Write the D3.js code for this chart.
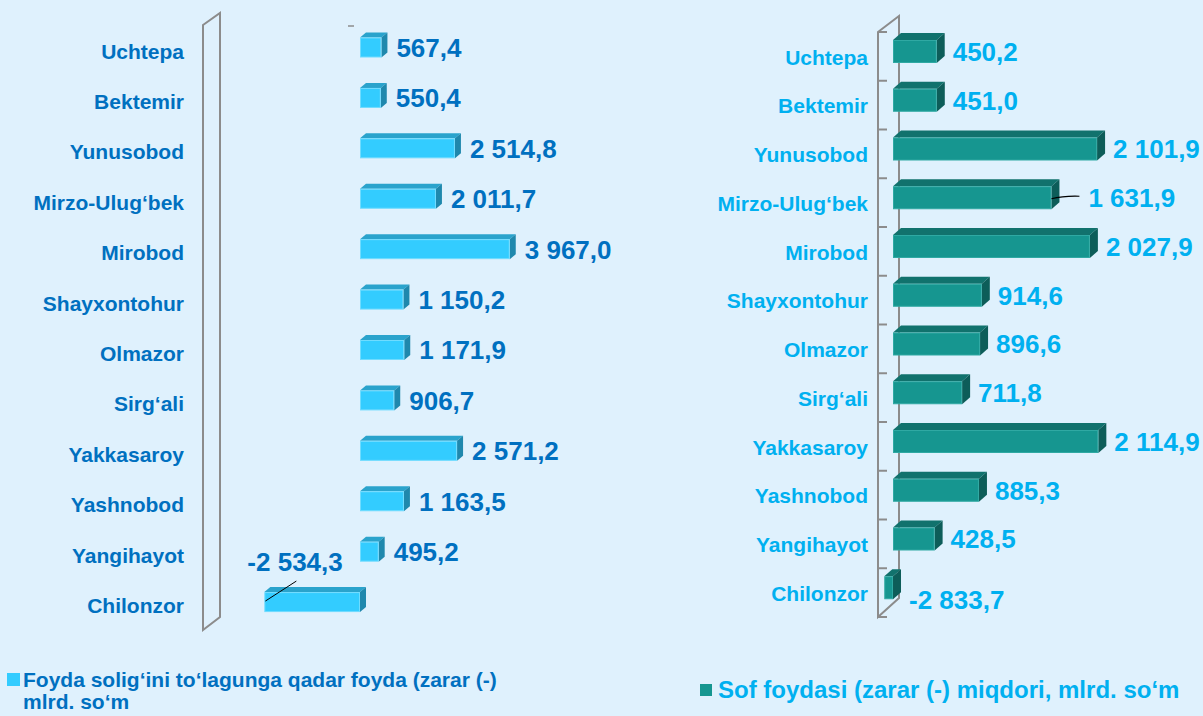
<!DOCTYPE html>
<meta charset="utf-8">
<style>
    body { margin: 0; background: #dff1fd; }
    svg { display: block; font-family: "Liberation Sans", Arial, sans-serif; font-weight: bold; }
    .wall { fill: none; stroke: #8c8c8c; stroke-width: 2; }
</style>
<div id="chart"></div>
<script src="https://cdn.jsdelivr.net/npm/d3@7"></script>
<script>
    var W = 1203, H = 716;

    // districts, same order in both charts (top to bottom)
    var districts = ["Uchtepa", "Bektemir", "Yunusobod", "Mirzo-Ulug‘bek", "Mirobod", "Shayxontohur",
        "Olmazor", "Sirg‘ali", "Yakkasaroy", "Yashnobod", "Yangihayot", "Chilonzor"];

    // profit before tax, mlrd. so'm
    var profitBeforeTax = [567.4, 550.4, 2514.8, 2011.7, 3967.0, 1150.2, 1171.9, 906.7, 2571.2, 1163.5, 495.2, -2534.3];

    // net profit: bar lengths as drawn, and the printed labels
    // (Chilonzor bar is drawn much shorter than its label in the original)
    var netProfitBars = [450.2, 451.0, 2101.9, 1631.9, 2027.9, 914.6, 896.6, 711.8, 2114.9, 885.3, 428.5, -90];
    var netProfitLabels = ["450,2", "451,0", "2 101,9", "1 631,9", "2 027,9", "914,6", "896,6", "711,8",
        "2 114,9", "885,3", "428,5", "-2 833,7"];

    var legendLeft = ["Foyda solig‘ini to‘lagunga qadar foyda (zarar (-)", "mlrd. so‘m"];
    var legendRight = "Sof foydasi (zarar (-) miqdori, mlrd. so‘m";

    var fmt = d3.formatLocale({decimal: ",", thousands: " ", grouping: [3], currency: ["", ""], minus: "-"}).format(",.1f");

    var svg = d3.select("#chart").append("svg")
        .attr("width", W)
        .attr("height", H);

    svg.append("rect").attr("width", W).attr("height", H).attr("fill", "#dff1fd");

    function bar3d(g, x0, x1, y0, h, dx, dy, c) {
        g.append("path")
            .attr("d", "M" + x0 + "," + y0 + "L" + x1 + "," + y0 + "L" + (x1 + dx) + "," + (y0 - dy) + "L" + (x0 + dx) + "," + (y0 - dy) + "Z")
            .attr("fill", c.top);
        g.append("path")
            .attr("d", "M" + x1 + "," + y0 + "L" + (x1 + dx) + "," + (y0 - dy) + "L" + (x1 + dx) + "," + (y0 + h - dy) + "L" + x1 + "," + (y0 + h) + "Z")
            .attr("fill", c.side);
        g.append("rect")
            .attr("x", x0 + 0.5).attr("y", y0 + 0.5)
            .attr("width", x1 - x0 - 1).attr("height", h - 1)
            .attr("fill", c.front)
            .attr("stroke", c.edge)
            .attr("stroke-width", 1);
    }

    // ---------- left chart ----------
    var xL = d3.scaleLinear().domain([-4000, 4000]).range([209, 511]);
    var yL = d3.scaleBand().domain(districts).range([25, 630]);
    var colL = {front: "#33ccff", top: "#2aa3cc", side: "#1f88ad", edge: "#6fdcff"};
    var gL = svg.append("g");

    // side wall
    gL.append("path").attr("class", "wall")
        .attr("d", "M203,25L220,13L220,617L203,630Z");
    gL.append("line").attr("x1", 348).attr("x2", 354).attr("y1", 26).attr("y2", 26)
        .attr("stroke", "#8c8c8c").attr("stroke-width", 1.5);

    gL.selectAll("text.cat").data(districts).enter().append("text")
        .attr("class", "cat")
        .attr("x", 184)
        .attr("y", function(d) { return yL(d) + yL.bandwidth() / 2 + 1; })
        .attr("dy", "0.35em")
        .attr("text-anchor", "end")
        .attr("font-size", 21)
        .attr("fill", "#0070c0")
        .text(function(d) { return d; });

    profitBeforeTax.forEach(function(v, i) {
        var y0 = yL(districts[i]) + 12.5, h = 20;
        var x0 = xL(Math.min(0, v)), x1 = xL(Math.max(0, v));
        bar3d(gL, x0, x1, y0, h, 6, 5, colL);
        var t = gL.append("text")
            .attr("font-size", 26)
            .attr("fill", "#0070c0")
            .text(fmt(v));
        if (v < 0) {
            t.attr("x", x0 - 17).attr("y", y0 - 21);
            gL.append("line")
                .attr("x1", x0 + 1).attr("y1", y0 + 9)
                .attr("x2", x0 + 32).attr("y2", y0 - 11)
                .attr("stroke", "#000").attr("stroke-width", 1);
        } else {
            t.attr("x", x1 + 15).attr("y", y0 + h / 2).attr("dy", "0.36em");
        }
    });

    // ---------- right chart ----------
    var xR = d3.scaleLinear().domain([-100, 2200]).range([883.3, 1106.6]);
    var yR = d3.scaleBand().domain(districts).range([32, 617]);
    var colR = {front: "#169690", top: "#11726d", side: "#0d5d59", edge: "#2fa9a3"};
    var gR = svg.append("g");

    gR.append("path").attr("class", "wall")
        .attr("d", "M878,32L899,16L899,598L878,617Z");
    gR.selectAll("line.tick").data(d3.range(districts.length + 1)).enter().append("line")
        .attr("class", "tick")
        .attr("x1", 878).attr("x2", 887)
        .attr("y1", function(d) { return 32 + d * yR.step(); })
        .attr("y2", function(d) { return 32 + d * yR.step(); })
        .attr("stroke", "#8c8c8c").attr("stroke-width", 2);

    gR.selectAll("text.cat").data(districts).enter().append("text")
        .attr("class", "cat")
        .attr("x", 868)
        .attr("y", function(d) { return yR(d) + yR.bandwidth() / 2 + 1; })
        .attr("dy", "0.35em")
        .attr("text-anchor", "end")
        .attr("font-size", 21)
        .attr("fill", "#00b0f0")
        .text(function(d) { return d; });

    netProfitBars.forEach(function(v, i) {
        var y0 = yR(districts[i]) + 8, h = 23;
        var x0 = xR(Math.min(0, v)), x1 = xR(Math.max(0, v));
        bar3d(gR, x0, x1, y0, h, 8, 7, colR);
        var t = gR.append("text")
            .attr("font-size", 26)
            .attr("fill", "#00b0f0")
            .attr("dy", "0.36em")
            .text(netProfitLabels[i]);
        if (v < 0) {
            t.attr("x", x1 + 16).attr("y", y0 + h / 2 + 12);
        } else if (districts[i] === "Mirzo-Ulug‘bek") {
            t.attr("x", x1 + 37).attr("y", y0 + h / 2);
            gR.append("path")
                .attr("d", "M" + x1 + "," + (y0 + h / 2 + 1) + "Q" + (x1 + 12) + "," + (y0 + h / 2 - 2) + " " + (x1 + 28) + "," + (y0 + h / 2 - 1.5))
                .attr("fill", "none").attr("stroke", "#000").attr("stroke-width", 1.2);
        } else {
            t.attr("x", x1 + 16).attr("y", y0 + h / 2);
        }
    });

    // ---------- legends ----------
    svg.append("rect").attr("x", 7).attr("y", 673).attr("width", 13).attr("height", 13).attr("fill", colL.front);
    svg.append("text")
        .attr("x", 23).attr("y", 687)
        .attr("font-size", 21)
        .attr("fill", "#0070c0")
        .selectAll("tspan").data(legendLeft).enter().append("tspan")
        .attr("x", 23)
        .attr("dy", function(d, i) { return i ? 22 : 0; })
        .text(function(d) { return d; });

    svg.append("rect").attr("x", 700).attr("y", 684).attr("width", 12).attr("height", 12).attr("fill", colR.front);
    svg.append("text")
        .attr("x", 718).attr("y", 698)
        .attr("font-size", 24)
        .attr("fill", "#00b0f0")
        .text(legendRight);
</script>
